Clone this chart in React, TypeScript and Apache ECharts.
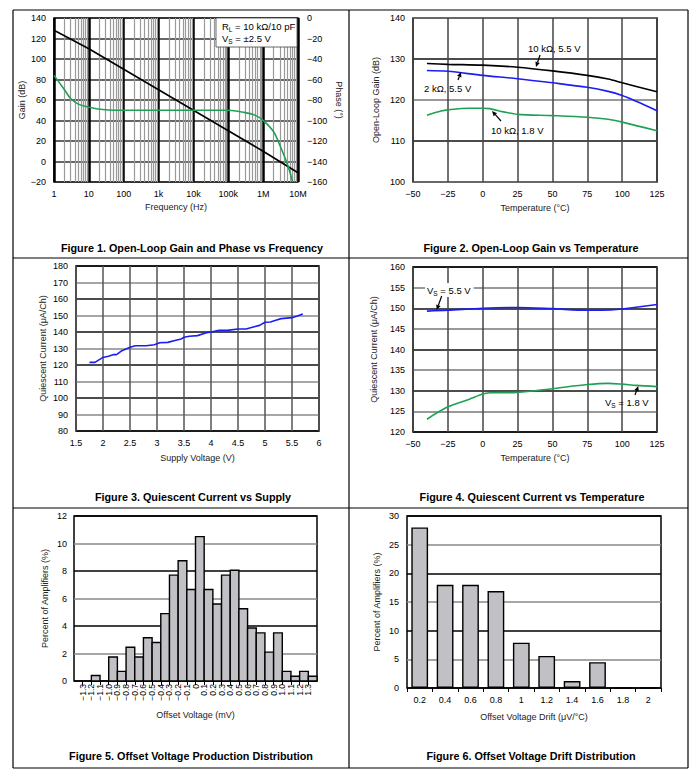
import React, { useEffect, useRef } from "react";
import * as echarts from "echarts";

// ---------- Figure 1: open-loop gain & phase vs frequency ----------
const freqTickLabels = ["1", "10", "100", "1k", "10k", "100k", "1M", "10M"];
const gainFreqHz = [1, 10, 100, 1e3, 1e4, 1e5, 1e6, 1e7];
const gainDb = [128, 110, 90, 70, 50, 30, 10, -11];
const phaseFreqHz = [1, 2, 3, 5, 10, 30, 100, 1e3, 1e4, 1e5, 3e5, 6e5, 1e6, 2e6, 3e6, 5e6, 7e6];
const phaseDeg = [-56, -70, -78.5, -84, -87, -89.5, -90, -90, -90, -90, -92.3, -95, -99.8, -111, -124, -143, -160];

// ---------- Figure 2: open-loop gain vs temperature ----------
const tempA = [-40, -25, 0, 25, 50, 75, 90, 100, 125];
const gain10k55 = [128.9, 128.7, 128.5, 128.0, 127.1, 126.0, 125.1, 124.2, 122.0];
const tempB = [-40, -25, 0, 25, 50, 75, 90, 100, 110, 125];
const gain2k55 = [127.2, 127.0, 126.0, 125.2, 124.2, 123.1, 122.1, 121.1, 119.7, 117.4];
const tempC = [-40, -30, -25, -10, 0, 5, 15, 25, 50, 75, 90, 100, 125];
const gain10k18 = [116.3, 117.3, 117.6, 118.0, 118.0, 117.9, 117.1, 116.5, 116.2, 115.8, 115.3, 114.6, 112.5];

// ---------- Figure 3: quiescent current vs supply ----------
const supplyV = [1.75, 1.85, 2.0, 2.1, 2.2, 2.25, 2.35, 2.5, 2.6, 2.8, 2.95, 3.05, 3.2, 3.35, 3.45, 3.5, 3.6, 3.75, 3.9, 4.0, 4.15, 4.3, 4.5, 4.65, 4.8, 4.9, 5.0, 5.1, 5.2, 5.3, 5.5, 5.6, 5.7];
const iqSupply = [121.6, 121.6, 124.6, 125.3, 126.3, 126.3, 128.7, 130.7, 131.7, 131.7, 132.3, 133.5, 133.7, 135.0, 135.8, 136.8, 137.4, 137.8, 139.4, 140.0, 141.0, 141.0, 141.8, 141.8, 143.2, 144.0, 145.9, 146.1, 147.1, 148.1, 148.7, 149.7, 150.9];

// ---------- Figure 4: quiescent current vs temperature ----------
const tempD = [-40, -25, 0, 25, 50, 75, 85, 100, 125];
const iq55 = [149.3, 149.5, 150.0, 150.2, 149.9, 149.5, 149.5, 149.8, 150.9];
const tempE = [-40, -25, -10, 0, 5, 25, 50, 75, 90, 100, 110, 125];
const iq18 = [123.1, 126.1, 127.9, 129.2, 129.5, 129.6, 130.5, 131.5, 131.8, 131.6, 131.3, 131.0];

// ---------- Figure 5: offset voltage distribution ----------
const offsetBinStart = [-1.4, -1.3, -1.2, -1.1, -1.0, -0.9, -0.8, -0.7, -0.6, -0.5, -0.4, -0.3, -0.2, -0.1, 0.0, 0.1, 0.2, 0.3, 0.4, 0.5, 0.6, 0.7, 0.8, 0.9, 1.0, 1.1, 1.2, 1.3];
const offsetPct = [0, 0, 0.4, 0, 1.75, 0.7, 2.45, 1.75, 3.15, 2.8, 4.9, 7.7, 8.75, 6.65, 10.5, 6.65, 5.6, 7.7, 8.05, 5.25, 3.85, 3.5, 2.1, 3.5, 0.7, 0.35, 0.7, 0.35];
const offsetBinWidth = 0.1;

// ---------- Figure 6: offset voltage drift distribution ----------
const driftCats = ["0.2", "0.4", "0.6", "0.8", "1", "1.2", "1.4", "1.6", "1.8", "2"];
const driftPct = [28, 18, 18, 16.9, 7.9, 5.6, 1.2, 4.5, 0, 0];

const captions = [
  "Figure 1. Open-Loop Gain and Phase vs Frequency",
  "Figure 2. Open-Loop Gain vs Temperature",
  "Figure 3. Quiescent Current vs Supply",
  "Figure 4. Quiescent Current vs Temperature",
  "Figure 5. Offset Voltage Production Distribution",
  "Figure 6. Offset Voltage Drift Distribution",
];

const FONT = "Liberation Sans, Arial, Helvetica, sans-serif";
const BLUE = "#1c1cf5";
const GREEN = "#1fa055";
const BAR = "#c0c0c5";

const zip = (a: number[], b: number[]) => a.map((v, i) => [v, b[i]]);
const minus = (v: any) => String(v).replace("-", "\u2212");

const labelStyle = { fontSize: 9, color: "#000", fontFamily: FONT };
const nameStyle = { fontSize: 9, color: "#222", fontFamily: FONT };

function arrow(x1: number, y1: number, x2: number, y2: number) {
  const a = Math.atan2(y2 - y1, x2 - x1);
  const L = 5, w = 2.3;
  const bx = x2 - L * Math.cos(a), by = y2 - L * Math.sin(a);
  return [
    { type: "line", z: 20, shape: { x1, y1, x2: bx, y2: by }, style: { stroke: "#000", lineWidth: 1.2 } },
    {
      type: "polygon",
      z: 20,
      shape: { points: [[x2, y2], [bx - w * Math.sin(a), by + w * Math.cos(a)], [bx + w * Math.sin(a), by - w * Math.cos(a)]] },
      style: { fill: "#000" },
    },
  ];
}

function txt(x: number, y: number, text: string, extra: any = {}) {
  return {
    type: "text",
    x,
    y,
    z: 20,
    style: {
      text,
      fill: "#000",
      font: `9.5px ${FONT}`,
      fontSize: 9.5,
      fontFamily: FONT,
      align: "left",
      textAlign: "left",
      verticalAlign: "middle",
      textVerticalAlign: "middle",
      ...extra,
    },
  };
}

const subRich = {
  n: { fontSize: 9.5, fontFamily: FONT, lineHeight: 14, verticalAlign: "middle", fill: "#000", color: "#000" },
  s: { fontSize: 6.5, fontFamily: FONT, lineHeight: 14, verticalAlign: "bottom", fill: "#000", color: "#000" },
};

function caption(x: number, y: number, text: string) {
  return {
    type: "text",
    x,
    y,
    style: {
      text,
      fill: "#000",
      font: `bold 10.8px ${FONT}`,
      align: "center",
      textAlign: "center",
      verticalAlign: "middle",
      textVerticalAlign: "middle",
    },
  };
}

function hline(x1: number, x2: number, y: number) {
  return { type: "line", shape: { x1, y1: y, x2, y2: y }, style: { stroke: "#000", lineWidth: 1.2 } };
}
function vline(x: number, y1: number, y2: number) {
  return { type: "line", shape: { x1: x, y1, x2: x, y2 }, style: { stroke: "#000", lineWidth: 1.2 } };
}

const minorFreqLines: any[] = [];
for (let d = 1; d < 1e7; d *= 10) for (let m = 2; m <= 9; m++) minorFreqLines.push({ xAxis: m * d });

const gridBox = { show: true, borderColor: "#000", borderWidth: 1.5, backgroundColor: "transparent" };

function valueX(gridIndex: number, min: number, max: number, interval: number, name: string, nameGap: number, extra: any = {}) {
  return {
    type: "value",
    gridIndex,
    min,
    max,
    interval,
    name,
    nameLocation: "middle",
    nameGap,
    nameTextStyle: nameStyle,
    axisLine: { show: false },
    axisTick: { show: false },
    axisLabel: { ...labelStyle, margin: 7, formatter: minus },
    splitLine: { show: true, lineStyle: { color: "#444", width: 1.5 } },
    ...extra,
  };
}
function valueY(gridIndex: number, min: number, max: number, interval: number, name: string, nameGap: number, colors: string[], extra: any = {}) {
  return {
    type: "value",
    gridIndex,
    min,
    max,
    interval,
    name,
    nameLocation: "middle",
    nameGap,
    nameTextStyle: nameStyle,
    axisLine: { show: false },
    axisTick: { show: false },
    axisLabel: { ...labelStyle, margin: 8, formatter: minus },
    splitLine: { show: true, lineStyle: { color: colors, width: 1.5 } },
    ...extra,
  };
}

const lineSeries = (xi: number, yi: number, data: number[][], color: string, smooth: boolean | number) => ({
  type: "line",
  xAxisIndex: xi,
  yAxisIndex: yi,
  data,
  showSymbol: false,
  symbol: "none",
  smooth,
  z: 10,
  lineStyle: { color, width: 1.6 },
  itemStyle: { color },
});

export default function App() {
  const ref = useRef<HTMLDivElement>(null);
  useEffect(() => {
    if (!ref.current) return;
    const chart = echarts.init(ref.current, undefined, { renderer: "svg" });
    const option: any = {
      animation: false,
      backgroundColor: "#fff",
      textStyle: { fontFamily: FONT },
      grid: [
        { left: 54, top: 18, width: 244, height: 164, ...gridBox },
        { left: 413, top: 18, width: 244, height: 164, ...gridBox },
        { left: 76, top: 266, width: 243, height: 165, ...gridBox },
        { left: 413, top: 267, width: 244, height: 165, ...gridBox },
        { left: 74, top: 516, width: 243, height: 165, ...gridBox },
        { left: 407, top: 516, width: 254, height: 172, ...gridBox },
      ],
      xAxis: [
        {
          type: "log",
          logBase: 10,
          gridIndex: 0,
          min: 1,
          max: 1e7,
          name: "Frequency (Hz)",
          nameLocation: "middle",
          nameGap: 20,
          nameTextStyle: nameStyle,
          axisLine: { show: false },
          axisTick: { show: false },
          axisLabel: { ...labelStyle, margin: 7, formatter: (v: number) => freqTickLabels[Math.round(Math.log10(v))] },
          splitLine: { show: true, lineStyle: { color: "#000", width: 2.5 } },
        },
        valueX(1, -50, 125, 25, "Temperature (\u00B0C)", 21),
        valueX(2, 1.5, 6, 0.5, "Supply Voltage (V)", 22, { splitLine: { show: true, lineStyle: { color: "#555", width: 1.5 } } }),
        valueX(3, -50, 125, 25, "Temperature (\u00B0C)", 21),
        valueX(4, -1.4, 1.4, 0.1, "Offset Voltage (mV)", 29, {
          splitLine: { show: false },
          axisTick: { show: true, length: 4, lineStyle: { color: "#000", width: 1 } },
          axisLabel: {
            ...labelStyle,
            fontSize: 8.5,
            rotate: 90,
            margin: 3,
            formatter: (v: number) => {
              const r = Math.round(v * 10) / 10;
              if (r === 0) return "0";
              return (r < 0 ? "\u2212" : "") + Math.abs(r).toFixed(1);
            },
          },
        }),
        {
          type: "category",
          gridIndex: 5,
          data: driftCats,
          name: "Offset Voltage Drift (\u03BCV/\u00B0C)",
          nameLocation: "middle",
          nameGap: 24,
          nameTextStyle: nameStyle,
          axisLine: { show: false },
          axisTick: { show: true, length: 4, lineStyle: { color: "#000", width: 1 } },
          axisLabel: { ...labelStyle, margin: 7 },
          splitLine: { show: false },
        },
      ],
      yAxis: [
        valueY(0, -20, 140, 20, "Gain (dB)", 27, ["#333"]),
        {
          type: "value",
          gridIndex: 0,
          position: "right",
          min: -160,
          max: 0,
          interval: 20,
          name: "Phase (\u00B0)",
          nameLocation: "middle",
          nameRotate: -90,
          nameGap: 36,
          nameTextStyle: nameStyle,
          axisLine: { show: false },
          axisTick: { show: false },
          axisLabel: { ...labelStyle, margin: 9, formatter: minus },
          splitLine: { show: false },
        },
        valueY(1, 100, 140, 10, "Open-Loop Gain (dB)", 33, ["#777", "#111"]),
        valueY(2, 80, 180, 10, "Quiescent Current (\u03BCA/Ch)", 29, ["#111", "#888"]),
        valueY(3, 120, 160, 5, "Quiescent Current (\u03BCA/Ch)", 35, ["#111", "#777"]),
        valueY(4, 0, 12, 2, "Percent of Amplifiers (%)", 25, ["#000", "#888"], { axisLabel: { ...labelStyle, margin: 7 } }),
        valueY(5, 0, 30, 5, "Percent of Amplifiers (%)", 26, ["#000", "#888"], { axisLabel: { ...labelStyle, margin: 8 } }),
      ],
      series: [
        {
          type: "line",
          xAxisIndex: 0,
          yAxisIndex: 0,
          data: [],
          silent: true,
          markLine: {
            silent: true,
            z: 1,
            symbol: ["none", "none"],
            label: { show: false },
            lineStyle: { color: "#999", width: 1.2, type: "solid" },
            data: minorFreqLines,
          },
        },
        lineSeries(0, 0, zip(gainFreqHz, gainDb), "#000", false),
        lineSeries(0, 1, zip(phaseFreqHz, phaseDeg), GREEN, 0.35),
        lineSeries(1, 2, zip(tempA, gain10k55), "#000", 0.3),
        lineSeries(1, 2, zip(tempB, gain2k55), BLUE, 0.3),
        lineSeries(1, 2, zip(tempC, gain10k18), GREEN, 0.3),
        lineSeries(2, 3, zip(supplyV, iqSupply), BLUE, false),
        lineSeries(3, 4, zip(tempD, iq55), BLUE, 0.3),
        lineSeries(3, 4, zip(tempE, iq18), GREEN, 0.3),
        {
          type: "custom",
          xAxisIndex: 4,
          yAxisIndex: 5,
          z: 10,
          data: zip(offsetBinStart, offsetPct),
          encode: { x: 0, y: 1 },
          renderItem: (params: any, api: any) => {
            const x0 = api.value(0);
            const v = api.value(1);
            if (!v) return null;
            const p0 = api.coord([x0, 0]);
            const p1 = api.coord([x0 + offsetBinWidth, v]);
            return {
              type: "rect",
              shape: { x: p0[0], y: p1[1], width: p1[0] - p0[0], height: p0[1] - p1[1] },
              style: { fill: BAR, stroke: "#000", lineWidth: 1.4 },
            };
          },
        },
        {
          type: "bar",
          xAxisIndex: 5,
          yAxisIndex: 6,
          z: 10,
          data: driftPct,
          barWidth: "66%",
          itemStyle: { color: BAR, borderColor: "#000", borderWidth: 1.4 },
        },
      ],
      graphic: [
        // frame
        hline(13, 688, 10),
        hline(13, 688, 258),
        hline(13, 688, 508),
        hline(13, 688, 768),
        vline(13, 10, 768),
        vline(349, 10, 768),
        vline(688, 10, 768),
        // captions
        caption(192, 248, captions[0]),
        caption(531, 248, captions[1]),
        caption(193, 497, captions[2]),
        caption(532, 497, captions[3]),
        caption(191, 756, captions[4]),
        caption(531, 756, captions[5]),
        // figure 1 condition box
        { type: "rect", z: 15, shape: { x: 216, y: 18, width: 81, height: 29 }, style: { fill: "#fff", stroke: "#444", lineWidth: 0.8 } },
        txt(222, 26, "{n|R}{s|L}{n| = 10 k\u03A9/10 pF}", { rich: subRich }),
        txt(222, 38, "{n|V}{s|S}{n| = \u00B12.5 V}", { rich: subRich }),
        // figure 2 annotations
        txt(528, 48, "10 k\u03A9, 5.5 V"),
        ...arrow(540, 55, 536, 67),
        txt(424, 88, "2 k\u03A9, 5.5 V"),
        ...arrow(458, 80, 461, 72),
        txt(491, 130, "10 k\u03A9, 1.8 V"),
        ...arrow(501, 121, 492, 111),
        // figure 4 annotations
        txt(425, 290, "{n|V}{s|S}{n| = 5.5 V}", { rich: subRich, backgroundColor: "#fff", padding: [0, 3, 0, 2] }),
        ...arrow(441.7, 296, 436.7, 310),
        txt(605, 402, "{n|V}{s|S}{n| = 1.8 V}", { rich: subRich }),
        ...arrow(635, 395, 638.3, 386),
      ],
    };
    chart.setOption(option);
    return () => chart.dispose();
  }, []);
  return (
    <div
      ref={ref}
      style={{ position: "fixed", left: 0, top: 0, width: 693, height: 781, background: "#fff" }}
    />
  );
}
